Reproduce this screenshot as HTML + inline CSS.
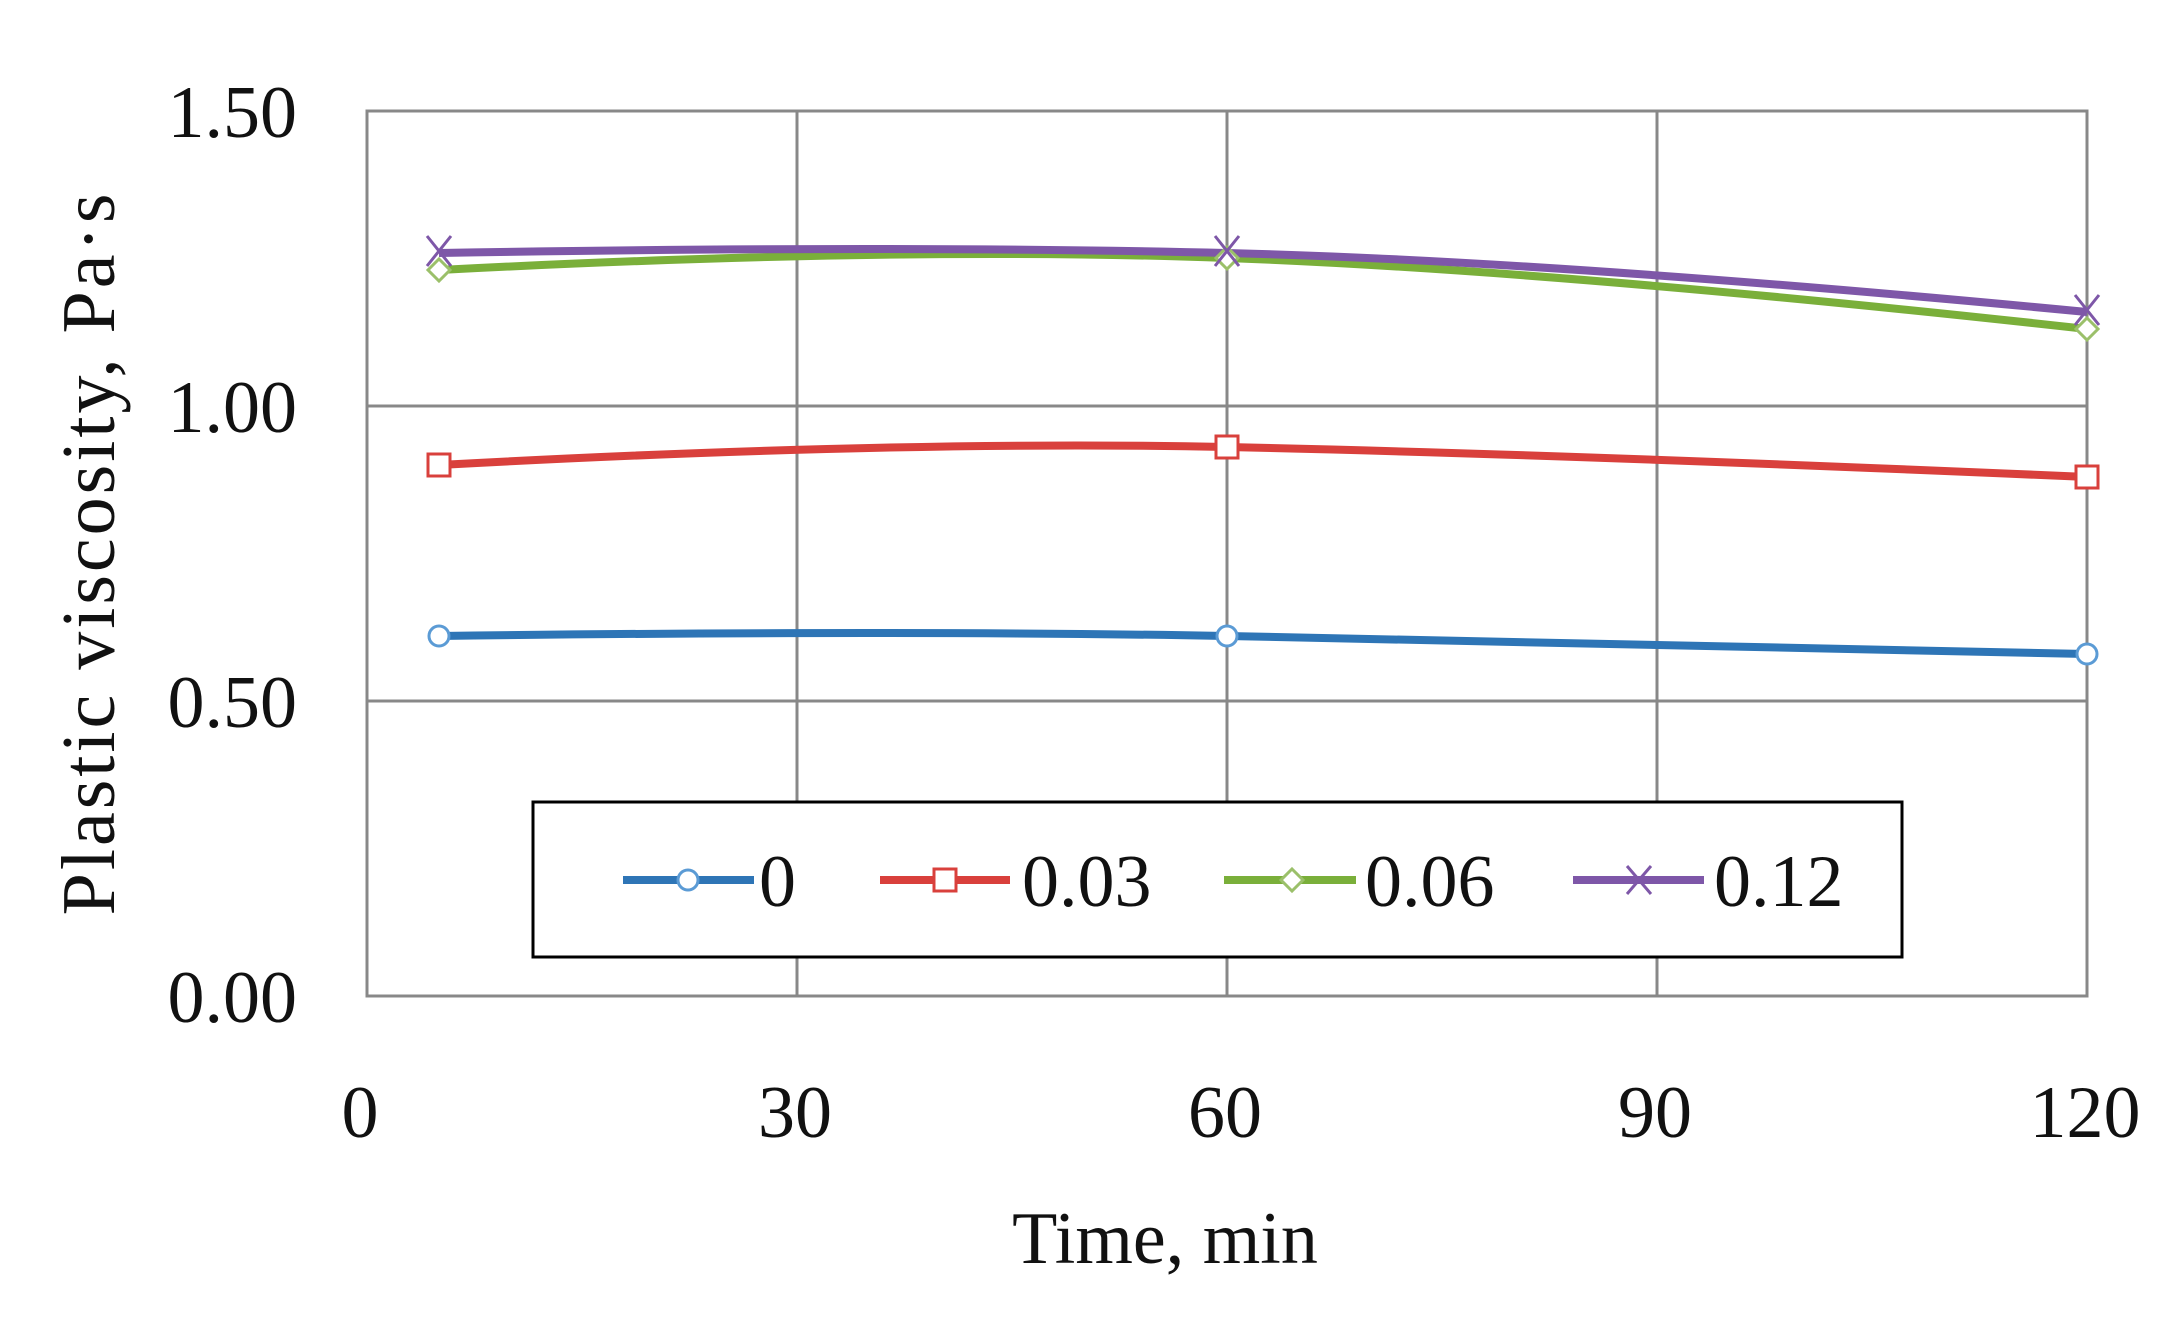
<!DOCTYPE html>
<html><head><style>body{margin:0;background:#fff}svg{display:block}</style></head><body>
<svg width="2169" height="1318" xmlns="http://www.w3.org/2000/svg" font-family="Liberation Serif, serif">
<rect width="2169" height="1318" fill="#fff"/>
<g stroke="#888" stroke-width="3" fill="none">
<line x1="367" y1="406" x2="2087" y2="406"/>
<line x1="367" y1="701" x2="2087" y2="701"/>
<line x1="797" y1="111" x2="797" y2="996"/>
<line x1="1227" y1="111" x2="1227" y2="996"/>
<line x1="1657" y1="111" x2="1657" y2="996"/>
<rect x="367" y="111" width="1720" height="885"/>
</g>
<g font-size="74" fill="#111" text-anchor="end">
<text x="297" y="137">1.50</text><text x="297" y="432">1.00</text><text x="297" y="727">0.50</text><text x="297" y="1022">0.00</text>
</g>
<g font-size="74" fill="#111" text-anchor="middle">
<text x="360" y="1137">0</text><text x="795" y="1137">30</text><text x="1225" y="1137">60</text><text x="1655" y="1137">90</text><text x="2085" y="1137">120</text>
<text x="1165" y="1263">Time, min</text>
<text transform="translate(114,553) rotate(-90)" font-size="76" letter-spacing="3">Plastic viscosity, Pa·s</text>
</g>
<g fill="none" stroke-width="8" stroke-linejoin="round">
<path d="M439,636 Q900,630 1227,636 T2087,654" stroke="#2e75b6"/>
<path d="M439,465 Q900,440 1227,447 T2087,477" stroke="#d9403c"/>
<path d="M439,270 Q900,246 1227,258 T2087,329" stroke="#7aaf3a"/>
<path d="M439,253 Q900,245 1227,253 T2087,312" stroke="#7e57a8"/>
</g>
<g stroke-width="3">
<circle cx="439" cy="636" r="10" fill="#fff" stroke="#5b9bd5"/><circle cx="1227" cy="636" r="10" fill="#fff" stroke="#5b9bd5"/><circle cx="2087" cy="654" r="10" fill="#fff" stroke="#5b9bd5"/>
<rect x="428" y="454" width="22" height="22" fill="#fff" stroke="#d9403c"/><rect x="1216" y="436" width="22" height="22" fill="#fff" stroke="#d9403c"/><rect x="2076" y="466" width="22" height="22" fill="#fff" stroke="#d9403c"/>
<path d="M439,259 l11,11 -11,11 -11,-11z M1227,247 l11,11 -11,11 -11,-11z M2087,318 l11,11 -11,11 -11,-11z" fill="#fff" stroke="#9bc06a"/>
<path d="M427,236 l24,30 M451,236 l-24,30 M1215,236 l24,30 M1239,236 l-24,30 M2075,295 l24,30 M2099,295 l-24,30" stroke="#7e57a8"/>
</g>
<rect x="533" y="802" width="1369" height="155" fill="#fff" stroke="#000" stroke-width="3"/>
<g stroke-width="8"><line x1="623" y1="880" x2="754" y2="880" stroke="#2e75b6"/><line x1="880" y1="880" x2="1010" y2="880" stroke="#d9403c"/><line x1="1224" y1="880" x2="1356" y2="880" stroke="#7aaf3a"/><line x1="1573" y1="880" x2="1704" y2="880" stroke="#7e57a8"/></g>
<g stroke-width="3"><circle cx="688" cy="880" r="10" fill="#fff" stroke="#5b9bd5"/><rect x="934" y="869" width="22" height="22" fill="#fff" stroke="#d9403c"/><path d="M1292,869 l11,11 -11,11 -11,-11z" fill="#fff" stroke="#9bc06a"/><path d="M1627,866 l24,28 M1651,866 l-24,28" stroke="#7e57a8"/></g>
<g font-size="74" fill="#111"><text x="759" y="906">0</text><text x="1022" y="906">0.03</text><text x="1365" y="906">0.06</text><text x="1714" y="906">0.12</text></g>
</svg>
</body></html>
